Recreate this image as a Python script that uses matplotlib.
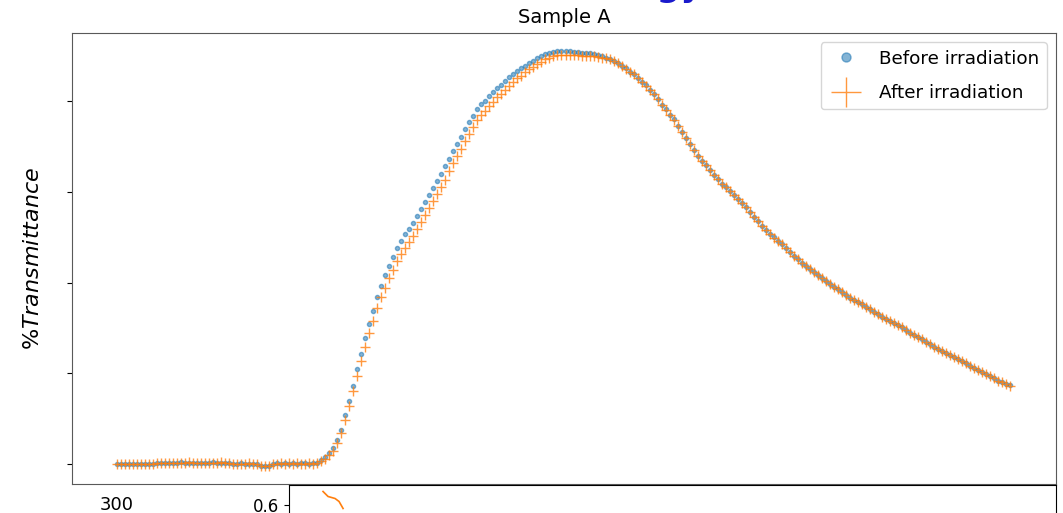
import numpy as np
import matplotlib
matplotlib.use("Agg")
import matplotlib.pyplot as plt

# wavelength grid (nm), one reading every 4 nm
wavelength = np.arange(300, 1193, 4)

before_irr = [
    0.0, 0.0, 0.1, 0.0, 0.0, 0.1, 0.0, 0.0, 0.1, 0.1,
    0.3, 0.3, 0.2, 0.3, 0.3, 0.3, 0.4, 0.3, 0.3, 0.3, 0.2, 0.3, 0.3, 0.3, 0.4, 0.3, 0.3, 0.2, 0.3,
    0.1, 0.1, 0.2, 0.1, 0.1, 0.0, 0.1,
    -0.4, -0.5, -0.4,
    0.1, 0.2, 0.1, 0.2, 0.1, 0.2, 0.1, 0.2, 0.2, 0.1, 0.2, 0.3,
    0.8, 1.6, 2.5, 3.5, 5.3, 7.6, 10.7, 13.9, 17.3, 20.9,
    24.3, 27.7, 30.9, 33.8, 36.8, 39.3, 41.6, 43.7, 45.7, 47.6,
    49.2, 50.6, 51.9, 53.1, 54.7, 56.2, 57.7, 59.3, 60.9, 62.4,
    64.0, 65.6, 67.3, 69.0, 70.6, 72.1, 73.8, 75.3, 76.7, 78.2,
    79.3, 80.1, 81.1, 82.0, 82.8, 83.6, 84.4, 85.2, 85.9, 86.6,
    87.2, 87.8, 88.4, 88.9, 89.4, 89.9, 90.3, 90.6, 90.9, 91.1,
    91.1, 91.1, 91.1, 90.9, 90.8, 90.6, 90.6, 90.5, 90.3, 90.1,
    89.9, 89.6, 89.3, 88.9,
    88.3, 87.8, 87.2, 86.5, 85.9, 85.1, 84.3, 83.5, 82.5, 81.5,
    80.4, 79.2, 78.2, 77.0, 76.0, 74.6, 73.2, 71.9, 70.5, 69.2,
    67.9, 66.8, 65.8, 64.8, 63.8, 62.8, 61.8, 61.0, 60.2, 59.3,
    58.5, 57.6, 56.6, 55.6, 54.5, 53.5, 52.5, 51.6, 50.7, 50.0,
    49.2, 48.5, 47.6, 46.7, 45.9, 45.2, 44.4, 43.7, 43.0, 42.3,
    41.7, 41.1, 40.4, 39.7, 39.0, 38.5, 37.9, 37.3, 36.7, 36.2,
    35.7, 35.3, 34.7, 34.1, 33.6, 33.0, 32.5, 32.0, 31.5, 31.1,
    30.6, 30.1, 29.5, 28.9, 28.5, 28.0, 27.6, 27.0, 26.4, 25.9,
    25.4, 25.0, 24.5, 24.1, 23.7, 23.2, 22.8, 22.2, 21.6, 21.2,
    20.7, 20.3, 19.8, 19.3, 18.9, 18.4, 18.0, 17.7, 17.4,
]

after_irr = [
    0.0, 0.0, 0.0, 0.1, 0.0, 0.0, 0.1, 0.0, 0.0, 0.1,
    0.2, 0.3, 0.3, 0.3, 0.2, 0.3, 0.3, 0.3, 0.4, 0.3, 0.3, 0.2, 0.3, 0.3, 0.3, 0.3, 0.4, 0.3, 0.2,
    0.1, 0.0, 0.1, 0.1, 0.2, 0.1, 0.0,
    -0.5, -0.4, -0.5,
    0.1, 0.1, 0.2, 0.1, 0.2, 0.1, 0.2, 0.1, 0.1, 0.2, 0.1, 0.2,
    0.6, 1.2, 2.0, 2.9, 4.6, 6.8, 9.7, 12.8, 16.0, 19.4,
    22.7, 25.9, 28.9, 31.6, 34.4, 36.8, 38.9, 40.9, 42.8, 44.7,
    46.3, 47.7, 49.0, 50.2, 51.8, 53.3, 54.8, 56.4, 58.0, 59.5,
    61.1, 62.7, 64.5, 66.3, 67.9, 69.5, 71.3, 72.8, 74.3, 75.9,
    77.0, 77.9, 79.0, 79.9, 80.8, 81.6, 82.5, 83.4, 84.2, 85.0,
    85.6, 86.3, 87.0, 87.5, 88.1, 88.7, 89.2, 89.5, 89.9, 90.1,
    90.2, 90.2, 90.2, 90.1, 90.1, 90.0, 90.0, 90.0, 89.9, 89.8,
    89.6, 89.4, 89.2, 88.8,
    88.3, 87.8, 87.1, 86.5, 85.9, 85.1, 84.3, 83.4, 82.5, 81.5,
    80.4, 79.2, 78.1, 77.0, 75.9, 74.6, 73.2, 71.9, 70.5, 69.2,
    67.9, 66.8, 65.8, 64.7, 63.8, 62.8, 61.8, 61.0, 60.1, 59.3,
    58.5, 57.6, 56.6, 55.6, 54.5, 53.5, 52.5, 51.6, 50.7, 49.9,
    49.2, 48.5, 47.6, 46.7, 45.9, 45.2, 44.4, 43.6, 43.0, 42.3,
    41.7, 41.0, 40.4, 39.7, 39.0, 38.5, 37.9, 37.3, 36.7, 36.2,
    35.7, 35.2, 34.7, 34.1, 33.6, 33.0, 32.5, 32.0, 31.5, 31.0,
    30.6, 30.1, 29.5, 28.9, 28.5, 28.0, 27.5, 27.0, 26.4, 25.9,
    25.4, 25.0, 24.5, 24.1, 23.6, 23.2, 22.8, 22.2, 21.6, 21.2,
    20.7, 20.2, 19.8, 19.3, 18.9, 18.4, 18.0, 17.6, 17.3,
]

# piece of the next panel that shows under the main one
lower_x = [506, 511, 518, 522, 526]
lower_y = [0.627, 0.617, 0.613, 0.607, 0.593]

fig = plt.figure(figsize=(10.63, 5.13), dpi=100)
fig.text(0.60, 1.007, "Energy", color="#1a1acc", fontsize=24, fontweight="bold",
         ha="center", va="baseline")

ax = fig.add_axes([72 / 1063, 29 / 513, 984 / 1063, 451 / 513])
ax.plot(wavelength, before_irr, "o", color="C0", ms=3, alpha=0.55,
        label="Before irradiation")
ax.plot(wavelength, after_irr, "+", color="C1", ms=7, alpha=0.8,
        label="After irradiation")
ax.set_xlim(255, 1238)
ax.set_ylim(-4.4, 95.0)
ax.set_yticks([0, 20, 40, 60, 80])
ax.set_yticklabels([])
ax.set_xticks([300, 500, 700, 900, 1100])
ax.tick_params(axis="x", length=0, pad=9, labelsize=13)
ax.set_ylabel(r"$\%Transmittance$", fontsize=16, labelpad=14)
ax.set_title("Sample A", fontsize=14, pad=7)
for s in ax.spines.values():
    s.set_color("0.35")
leg = ax.legend(loc="upper right", fontsize=13.2, markerscale=3, labelspacing=0.9)
leg.legend_handles[0].set_markersize(6.5)

ax2 = fig.add_axes([289 / 1063, -0.5, 767 / 1063, 0.5 + 28 / 513])
ax2.plot(lower_x, lower_y, color="C1", lw=1.2)
ax2.set_xlim(472, 1238)
ax2.set_ylim(0.071, 0.64)
ax2.set_yticks([0.6])
ax2.tick_params(axis="y", labelsize=12)

fig.savefig("out.png", dpi=100)
